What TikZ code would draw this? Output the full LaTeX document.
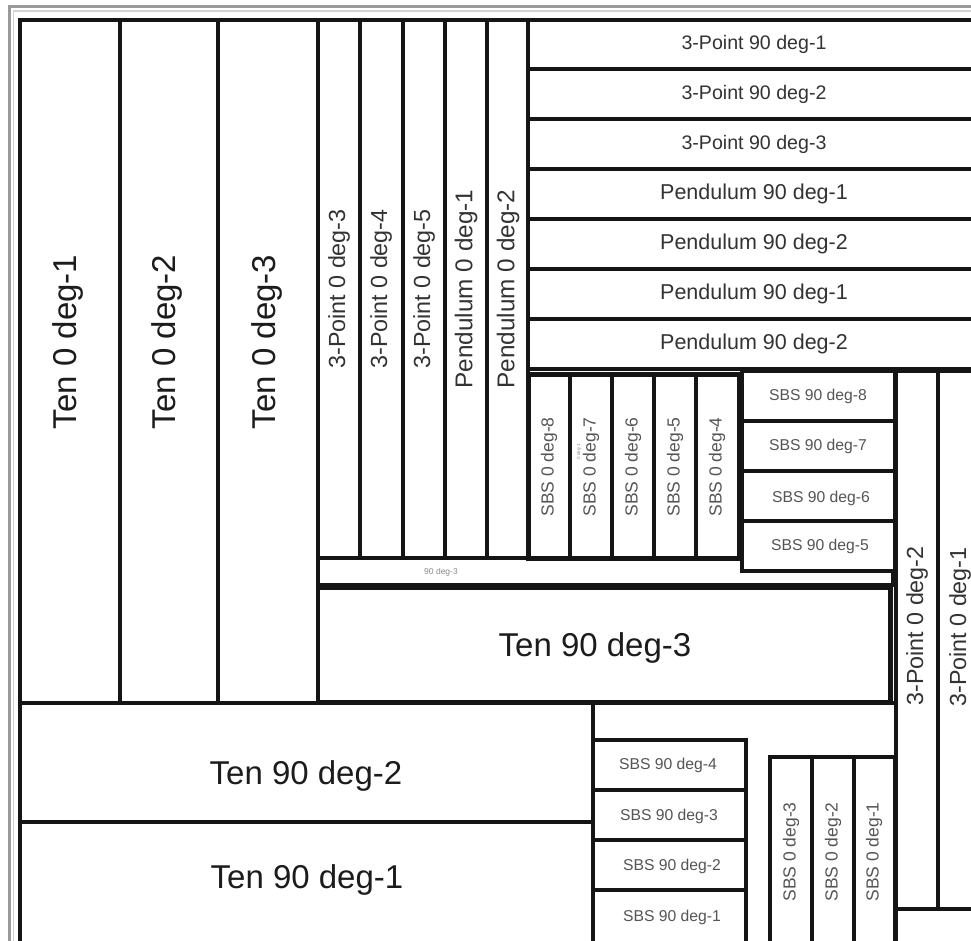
\documentclass[tikz,border=0pt]{standalone}
\usepackage{fontspec}
\setmainfont{Liberation Sans}
\definecolor{linec}{HTML}{151515}
\definecolor{frameA}{HTML}{9A9A9A}
\definecolor{frameB}{HTML}{D2D2D2}
\definecolor{txtA}{HTML}{1C1C1C}
\definecolor{txtB}{HTML}{333333}
\definecolor{txtC}{HTML}{555555}
\definecolor{txtD}{HTML}{8A8A8A}
\tikzset{
  cell/.style={draw=linec, line width=3.1pt},
  heavy/.style={draw=linec, line width=5pt},
  lbl/.style={inner sep=0pt, outer sep=0pt},
  bigt/.style={lbl, text=txtA, font=\fontsize{33}{36}\selectfont},
  rowt/.style={lbl, text=txtB, font=\fontsize{19.6}{22}\selectfont},
  rowp/.style={lbl, text=txtB, font=\fontsize{21.5}{24}\selectfont},
  vpt/.style={lbl, text=txtB, rotate=90, font=\fontsize{23.3}{26}\selectfont},
  vpp/.style={lbl, text=txtB, rotate=90, font=\fontsize{24.3}{27}\selectfont},
  sbsv/.style={lbl, text=txtC, rotate=90, font=\fontsize{17.5}{20}\selectfont},
  sbsh/.style={lbl, text=txtC, font=\fontsize{15.7}{18}\selectfont},
}
\begin{document}
\begin{tikzpicture}[x=1pt,y=-1pt]
\useasboundingbox (0,0) rectangle (971,940);
\clip (0,0) rectangle (971,940);
\fill[white] (0,0) rectangle (971,940);
% outer gray frame
\draw[frameA, line width=2.2pt] (9.5,960) -- (9.5,6.5) -- (1000,6.5);
\draw[frameB, line width=1.2pt] (13.5,960) -- (13.5,11) -- (1000,11);
% black frame
\draw[heavy, line width=3.8pt] (20,20) rectangle (990,950);

% left tall columns
\draw[cell] (20,20) rectangle (120,703);
\draw[cell] (120,20) rectangle (218,703);
\draw[cell] (218,20) rectangle (318,703);
% narrow columns
\draw[cell] (318,20) rectangle (360,558);
\draw[cell] (360,20) rectangle (403,558);
\draw[cell] (403,20) rectangle (445,558);
\draw[cell] (445,20) rectangle (487,558);
\draw[cell] (487,20) rectangle (528,558);
% right rows
\draw[cell] (528,20) rectangle (990,69);
\draw[cell] (528,69) rectangle (990,119);
\draw[cell] (528,119) rectangle (990,169);
\draw[cell] (528,169) rectangle (990,219);
\draw[cell] (528,219) rectangle (990,269);
\draw[cell] (528,269) rectangle (990,319);
\draw[cell] (528,319) rectangle (990,369);
% SBS 0 deg group (upper)
\draw[cell] (528,374) rectangle (570,558);
\draw[cell] (570,374) rectangle (612,558);
\draw[cell] (612,374) rectangle (654,558);
\draw[cell] (654,374) rectangle (696,558);
\draw[cell] (696,374) rectangle (739,558);
\draw[heavy] (528,374) rectangle (739,558);
% SBS 90 deg-8..5
\draw[cell] (742,371) rectangle (895,421);
\draw[cell] (742,421) rectangle (895,471);
\draw[cell] (742,471) rectangle (895,521);
\draw[cell] (742,521) rectangle (895,571);
% strip
\draw[cell] (318,558) -- (318,585) -- (893,585) -- (893,571);
% Ten 90 deg-3
\draw[cell] (318,587) rectangle (890,702);
\draw[heavy] (318,587) -- (890,587) -- (890,702);
% lower left
\draw[cell] (20,703) rectangle (593,822);
\draw[cell] (20,822) rectangle (593,950);
\draw[cell] (593,703) -- (895,703);
% SBS 90 deg-4..1
\draw[cell] (593,740) rectangle (746,790);
\draw[cell] (593,790) rectangle (746,840);
\draw[cell] (593,840) rectangle (746,890);
\draw[cell] (593,890) rectangle (746,950);
% SBS 0 deg-3..1
\draw[cell, line width=3.6pt] (770,757) rectangle (812,950);
\draw[cell, line width=3.6pt] (812,757) rectangle (854,950);
\draw[cell, line width=3.6pt] (854,757) rectangle (895,950);
% right columns
\draw[cell] (896,371) rectangle (938,909);
\draw[cell] (938,371) rectangle (990,909);
\draw[cell] (896,909) rectangle (990,950);

% labels
\node[bigt, rotate=90] (t01) at (68,342) {Ten 0 deg-1};
\node[bigt, rotate=90] (t02) at (167,342) {Ten 0 deg-2};
\node[bigt, rotate=90] (t03) at (267,342) {Ten 0 deg-3};
\node[vpt] (p03) at (339,289) {3-Point 0 deg-3};
\node[vpt] (p04) at (381,289) {3-Point 0 deg-4};
\node[vpt] (p05) at (424,289) {3-Point 0 deg-5};
\node[vpp] (d01) at (466,289) {Pendulum 0 deg-1};
\node[vpp] (d02) at (508,289) {Pendulum 0 deg-2};

\node[rowt] (p91) at (754,44) {3-Point 90 deg-1};
\node[rowt] (p92) at (754,94) {3-Point 90 deg-2};
\node[rowt] (p93) at (754,144) {3-Point 90 deg-3};
\node[rowp] (d91) at (754,194) {Pendulum 90 deg-1};
\node[rowp] (d92) at (754,244) {Pendulum 90 deg-2};
\node[rowp] (d91b) at (754,294) {Pendulum 90 deg-1};
\node[rowp] (d92b) at (754,344) {Pendulum 90 deg-2};

\node[sbsv] (s08) at (549,467) {SBS 0 deg-8};
\node[sbsv] (s07) at (591,467) {SBS 0 deg-7};
\node[sbsv] (s06) at (633,467) {SBS 0 deg-6};
\node[sbsv] (s05) at (675,467) {SBS 0 deg-5};
\node[sbsv] (s04) at (717,467) {SBS 0 deg-4};
\node[lbl, text=txtD, rotate=90, font=\fontsize{4.5}{5}\selectfont] (tiny1) at (579,452) {0 deg-1};

\node[sbsh] (h98) at (818,396) {SBS 90 deg-8};
\node[sbsh] (h97) at (818,446) {SBS 90 deg-7};
\node[sbsh] (h96) at (821,498) {SBS 90 deg-6};
\node[sbsh] (h95) at (820,546) {SBS 90 deg-5};

\node[lbl, text=txtD, font=\fontsize{8.5}{10}\selectfont] (tiny2) at (441,572) {90 deg-3};

\node[bigt] (t93) at (595,648) {Ten 90 deg-3};
\node[bigt] (t92) at (306,776) {Ten 90 deg-2};
\node[bigt] (t91) at (307,880) {Ten 90 deg-1};

\node[sbsh] (h94) at (668,765) {SBS 90 deg-4};
\node[sbsh] (h93) at (669,816) {SBS 90 deg-3};
\node[sbsh] (h92) at (672,866) {SBS 90 deg-2};
\node[sbsh] (h91) at (672,917) {SBS 90 deg-1};

\node[sbsv] (s03) at (791,852) {SBS 0 deg-3};
\node[sbsv] (s02) at (833,852) {SBS 0 deg-2};
\node[sbsv] (s01) at (874,852) {SBS 0 deg-1};

\node[vpt] (p02) at (917,626) {3-Point 0 deg-2};
\node[vpt] (p01) at (960,627) {3-Point 0 deg-1};
\end{tikzpicture}
\end{document}
